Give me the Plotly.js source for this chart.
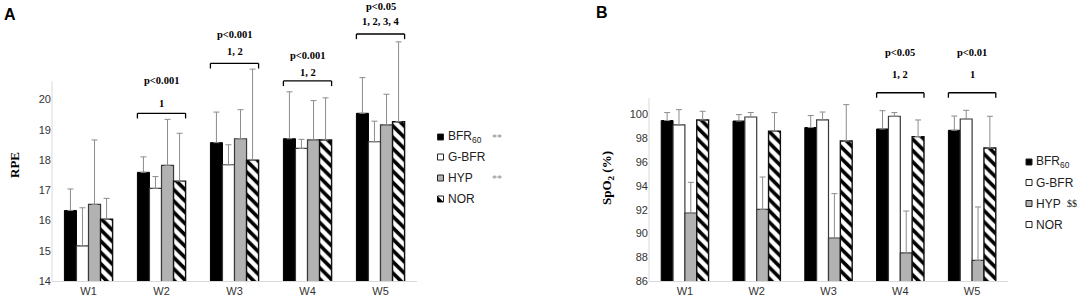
<!DOCTYPE html>
<html>
<head>
<meta charset="utf-8">
<script src="https://cdn.plot.ly/plotly-3.0.1.min.js"></script>
<style>html,body{margin:0;padding:0;background:#fff;}#chart{width:1084px;height:303px;}</style>
</head>
<body>
<div id="chart"></div>
<script>
// ---- data ----
const categories = ['W1', 'W2', 'W3', 'W4', 'W5'];
const seriesNames = ['BFR60', 'G-BFR', 'HYP', 'NOR'];

// Panel A: RPE (mean and SD)
const rpeBFR60 = [16.33, 17.59, 18.57, 18.70, 19.54];
const rpeBFR60Sd = [0.71, 0.51, 1.01, 1.55, 1.18];
const rpeGBFR = [15.16, 17.06, 17.84, 18.38, 18.60];
const rpeGBFRSd = [1.26, 0.39, 0.66, 0.30, 0.68];
const rpeHYP = [16.53, 17.82, 18.70, 18.66, 19.16];
const rpeHYPSd = [2.13, 1.52, 0.96, 1.30, 1.01];
const rpeNOR = [16.04, 17.30, 17.99, 18.66, 19.26];
const rpeNORSd = [0.69, 1.58, 3.01, 1.39, 2.64];
const rpeTicks = [14, 15, 16, 17, 18, 19, 20];

// Panel B: SpO2 (%) (mean and SD)
const spoBFR60 = [99.50, 99.46, 98.91, 98.79, 98.68];
const spoBFR60Sd = [0.67, 0.54, 1.01, 1.54, 1.20];
const spoGBFR = [99.13, 99.80, 99.55, 99.86, 99.63];
const spoGBFRSd = [1.29, 0.38, 0.67, 0.31, 0.73];
const spoHYP = [91.72, 92.03, 89.62, 88.36, 87.74];
const spoHYPSd = [2.58, 2.72, 3.73, 3.53, 4.49];
const spoNOR = [99.55, 98.60, 97.78, 98.15, 97.19];
const spoNORSd = [0.73, 1.57, 3.06, 1.40, 2.67];
const spoTicks = [86, 88, 90, 92, 94, 96, 98, 100];

// significance labels
const rpeSigIndex = [1, 2, 3, 4];
const rpeSigP = ['p<0.001', 'p<0.001', 'p<0.001', 'p<0.05'];
const rpeSigGroups = ['1', '1, 2', '1, 2', '1, 2, 3, 4'];
const spoSigIndex = [3, 4];
const spoSigP = ['p<0.05', 'p<0.01'];
const spoSigGroups = ['1, 2', '1'];

// ---- styles ----
const H = 303, W = 1084;
const px = x => x / W;
const py = y => 1 - y / H;
const serif = 'Liberation Serif, Times New Roman, serif';
const sans = 'Liberation Sans, Arial, sans-serif';
const errStyle = {color: '#8c8c8c', thickness: 1, width: 3};

const styles = [
  {color: '#000000', line: {color: '#000000', width: 1}},
  {color: '#ffffff', line: {color: '#3a3a3a', width: 1.2}},
  {color: '#b2b2b2', line: {color: '#3a3a3a', width: 1.2}},
  {color: '#ffffff', line: {color: '#111111', width: 1.4},
   pattern: {shape: '\\', fgcolor: '#000000', bgcolor: '#ffffff', size: 8, solidity: 0.45}}
];

function bar(y, sd, i, xa, ya) {
  return {
    type: 'bar', x: categories, y: y, name: seriesNames[i],
    xaxis: xa, yaxis: ya, showlegend: false, hoverinfo: 'skip',
    marker: styles[i],
    error_y: Object.assign({type: 'data', symmetric: false, array: sd,
      arrayminus: sd.map(() => 0), visible: true}, errStyle)
  };
}

const data = [
  bar(rpeBFR60, rpeBFR60Sd, 0, 'x', 'y'),
  bar(rpeGBFR, rpeGBFRSd, 1, 'x', 'y'),
  bar(rpeHYP, rpeHYPSd, 2, 'x', 'y'),
  bar(rpeNOR, rpeNORSd, 3, 'x', 'y'),
  bar(spoBFR60, spoBFR60Sd, 0, 'x2', 'y2'),
  bar(spoGBFR, spoGBFRSd, 1, 'x2', 'y2'),
  bar(spoHYP, spoHYPSd, 2, 'x2', 'y2'),
  bar(spoNOR, spoNORSd, 3, 'x2', 'y2')
];

const shapes = [];
const annotations = [];

// y axis lines (stop below the top of the plot area, as in the figure)
shapes.push({type: 'line', xref: 'x domain', yref: 'y', x0: 0, x1: 0, y0: 14, y1: 20.6,
  line: {color: '#d9d9d9', width: 1}});
shapes.push({type: 'line', xref: 'x2 domain', yref: 'y2', x0: 0, x1: 0, y0: 86, y1: 101.4,
  line: {color: '#d9d9d9', width: 1}});

// brackets
function bracket(xref, yref, idx, yv, tick) {
  const hw = 0.33;
  const l = {color: '#000000', width: 1.3};
  shapes.push({type: 'line', xref, yref, x0: idx - hw, x1: idx + hw, y0: yv, y1: yv, line: l});
  shapes.push({type: 'line', xref, yref, x0: idx - hw, x1: idx - hw, y0: yv, y1: yv - tick, line: l});
  shapes.push({type: 'line', xref, yref, x0: idx + hw, x1: idx + hw, y0: yv, y1: yv - tick, line: l});
}
function sigText(xref, yref, idx, yv, txt) {
  annotations.push({xref, yref, x: idx, y: yv, text: '<b>' + txt + '</b>', showarrow: false,
    font: {family: serif, size: 10.5, color: '#000'}, xanchor: 'center', yanchor: 'middle'});
}
// Panel A
const rpeBracketY = [19.54, 21.19, 20.61, 22.16];
const rpePY = [20.64, 22.13, 21.44, 23.06];
const rpeGY = [19.85, 21.57, 20.88, 22.57];
rpeSigIndex.forEach((idx, k) => {
  bracket('x', 'y', idx, rpeBracketY[k], 0.17);
  sigText('x', 'y', idx, rpePY[k], rpeSigP[k]);
  sigText('x', 'y', idx, rpeGY[k], rpeSigGroups[k]);
});
// Panel B
spoSigIndex.forEach((idx, k) => {
  bracket('x2', 'y2', idx, 101.84, 0.42);
  sigText('x2', 'y2', idx, 105.24, spoSigP[k]);
  sigText('x2', 'y2', idx, 103.36, spoSigGroups[k]);
});

// panel letters
annotations.push({xref: 'paper', yref: 'paper', x: px(10), y: py(14), text: '<b>A</b>', showarrow: false,
  font: {family: sans, size: 16, color: '#000'}, xanchor: 'center', yanchor: 'middle'});
annotations.push({xref: 'paper', yref: 'paper', x: px(602), y: py(13), text: '<b>B</b>', showarrow: false,
  font: {family: sans, size: 16, color: '#000'}, xanchor: 'center', yanchor: 'middle'});

// axis titles
annotations.push({xref: 'paper', yref: 'paper', x: px(14), y: py(165), text: '<b>RPE</b>', showarrow: false,
  textangle: -90, font: {family: serif, size: 13, color: '#000'}, xanchor: 'center', yanchor: 'middle'});
annotations.push({xref: 'paper', yref: 'paper', x: px(607), y: py(178), text: '<b>SpO<sub>2</sub> (%)</b>', showarrow: false,
  textangle: -90, font: {family: serif, size: 13, color: '#000'}, xanchor: 'center', yanchor: 'middle'});

// custom legends
function legend(x, rows, labels, extras, extraX, patternIdx) {
  rows.forEach((y, i) => {
    const s = 3;
    const st = styles[i];
    shapes.push({type: 'rect', xref: 'paper', yref: 'paper', x0: px(x - s), x1: px(x + s), y0: py(y + s), y1: py(y - s),
      fillcolor: st.color, line: {color: '#222', width: 1}});
    if (i === 3 && patternIdx) {
      shapes.push({type: 'path', xref: 'paper', yref: 'paper',
        path: 'M' + px(x - s) + ',' + py(y - s) + ' L' + px(x - s) + ',' + py(y + s) + ' L' + px(x + s) + ',' + py(y + s) + ' Z',
        fillcolor: '#000', line: {width: 0}});
    }
    annotations.push({xref: 'paper', yref: 'paper', x: px(x + 5), y: py(y), text: labels[i], showarrow: false,
      font: {family: sans, size: 12, color: '#222'}, xanchor: 'left', yanchor: 'middle'});
    if (extras[i]) {
      annotations.push({xref: 'paper', yref: 'paper', x: px(extraX), y: py(y), text: extras[i], showarrow: false,
        font: {family: serif, size: 10, color: i === 2 && extras[i] === '$$' ? '#222' : '#8c8c8c'}, xanchor: 'center', yanchor: 'middle'});
    }
  });
}
const legendLabels = ['BFR<sub>60</sub>', 'G-BFR', 'HYP', 'NOR'];
legend(440.5, [137, 157, 178, 199], legendLabels, ['**', '', '**', ''], 497.5, true);
legend(1029, [162, 182.5, 203.5, 224.5], legendLabels, ['', '', '$$', ''], 1072, false);

const yDomain = [22 / H, 1];
const layout = {
  width: W, height: H,
  margin: {l: 0, r: 0, t: 0, b: 0},
  paper_bgcolor: '#fff', plot_bgcolor: 'rgba(0,0,0,0)',
  barmode: 'group', bargap: 0.34, bargroupgap: 0,
  showlegend: false,
  font: {family: sans, size: 11, color: '#333'},
  xaxis: {domain: [px(52), px(417)], anchor: 'y', type: 'category', showline: true, linecolor: '#d9d9d9',
    linewidth: 1, ticks: '', showgrid: false, zeroline: false, tickfont: {family: sans, size: 11, color: '#333'}},
  yaxis: {domain: yDomain, anchor: 'x', range: [14, 14 + 281 / 30.27], tickvals: rpeTicks, ticks: '',
    showline: false, showgrid: false, zeroline: false, tickfont: {family: sans, size: 11, color: '#333'}},
  xaxis2: {domain: [px(649), px(1008)], anchor: 'y2', type: 'category', showline: true, linecolor: '#d9d9d9',
    linewidth: 1, ticks: '', showgrid: false, zeroline: false, tickfont: {family: sans, size: 11, color: '#333'}},
  yaxis2: {domain: yDomain, anchor: 'x2', range: [86, 86 + 281 / 11.885], tickvals: spoTicks, ticks: '',
    showline: false, showgrid: false, zeroline: false, tickfont: {family: sans, size: 11, color: '#333'}},
  shapes: shapes,
  annotations: annotations
};

Plotly.newPlot('chart', data, layout, {staticPlot: true, displayModeBar: false});
</script>
</body>
</html>
